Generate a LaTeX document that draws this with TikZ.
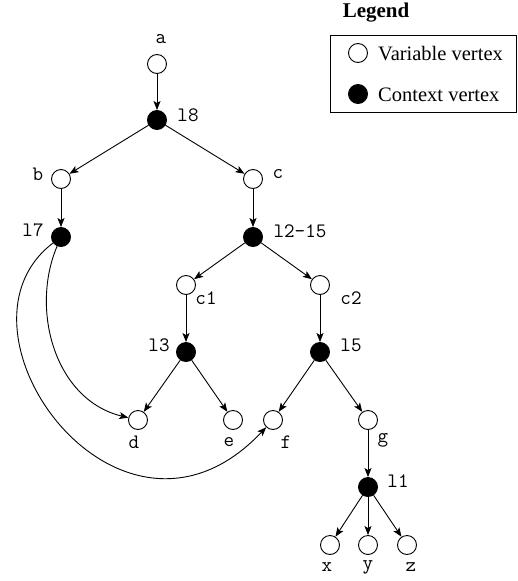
\documentclass[tikz,border=0pt]{standalone}
\usepackage{fontspec}
\setmainfont{Liberation Serif}
\usetikzlibrary{arrows.meta}
\begin{document}
\begin{tikzpicture}[x=1pt,y=-1pt,
  vvar/.style={circle,draw,fill=white,line width=0.9pt,minimum size=19pt,inner sep=0pt},
  vctx/.style={circle,draw,fill=black,line width=0.9pt,minimum size=19pt,inner sep=0pt},
  lab/.style={font=\ttfamily\fontsize{20.5}{22}\selectfont,inner sep=0pt},
  legtext/.style={font=\fontsize{20.5}{22}\selectfont,inner sep=0pt,anchor=west},
  edge/.style={line width=0.9pt,-{Stealth[length=9pt,width=7pt,inset=2pt]}}]
\useasboundingbox (0,0) rectangle (517,581);

% legend
\node[font=\bfseries\fontsize{21}{23}\selectfont,inner sep=0pt] (legtitle) at (376,13) {Legend};
\draw[line width=0.9pt] (330,35) rectangle (516.3,112);
\node[vvar] (legvar) at (358,53) {};
\node[vctx] (legctx) at (358,94) {};
\node[legtext] (legvartxt) at (378,54) {Variable vertex};
\node[legtext] (legctxtxt) at (378,95) {Context vertex};

% vertices
\node[vvar] (a)   at (157,64)  {};
\node[vctx] (l8)  at (157,120) {};
\node[vvar] (b)   at (61,179)  {};
\node[vvar] (c)   at (253,179) {};
\node[vctx] (l7)  at (61,237)  {};
\node[vctx] (l12) at (253,237) {};
\node[vvar] (c1)  at (186,285) {};
\node[vvar] (c2)  at (320,285) {};
\node[vctx] (l3)  at (186,352) {};
\node[vctx] (l5)  at (320,352) {};
\node[vvar] (d)   at (138,420) {};
\node[vvar] (e)   at (233,420) {};
\node[vvar] (f)   at (273,420) {};
\node[vvar] (g)   at (368,420) {};
\node[vctx] (l1)  at (368,487) {};
\node[vvar] (x)   at (330,545) {};
\node[vvar] (y)   at (368,545) {};
\node[vvar] (z)   at (407,545) {};

% vertex labels
\node[lab] (a-l)   at (161,39)  {a};
\node[lab] (l8-l)  at (188,115) {l8};
\node[lab] (b-l)   at (38,174)  {b};
\node[lab] (c-l)   at (278,174) {c};
\node[lab] (l7-l)  at (33,230)  {l7};
\node[lab] (l12-l) at (300,231) {l2-15};
\node[lab] (c1-l)  at (206,298) {c1};
\node[lab] (c2-l)  at (351,298) {c2};
\node[lab] (l3-l)  at (159,345) {l3};
\node[lab] (l5-l)  at (351,345) {l5};
\node[lab] (d-l)   at (134,442) {d};
\node[lab] (e-l)   at (229,442) {e};
\node[lab] (f-l)   at (286,442) {f};
\node[lab] (g-l)   at (383,440) {g};
\node[lab] (l1-l)  at (398,481) {l1};
\node[lab] (x-l)   at (327,567) {x};
\node[lab] (y-l)   at (368,567) {y};
\node[lab] (z-l)   at (411,567) {z};

% connectors
\draw[edge] (a) -- (l8);
\draw[edge] (l8) -- (b);
\draw[edge] (l8) -- (c);
\draw[edge] (b) -- (l7);
\draw[edge] (c) -- (l12);
\draw[edge] (l12) -- (c1);
\draw[edge] (l12) -- (c2);
\draw[edge] (c1) -- (l3);
\draw[edge] (c2) -- (l5);
\draw[edge] (l3) -- (d);
\draw[edge] (l3) -- (e);
\draw[edge] (l5) -- (f);
\draw[edge] (l5) -- (g);
\draw[edge] (g) -- (l1);
\draw[edge] (l1) -- (x);
\draw[edge] (l1) -- (y);
\draw[edge] (l1) -- (z);
\draw[edge] (l7) .. controls (30,310) and (55,400) .. (d);
\draw[edge] (l7) .. controls (-62,330) and (120,582) .. (f);
\end{tikzpicture}
\end{document}
